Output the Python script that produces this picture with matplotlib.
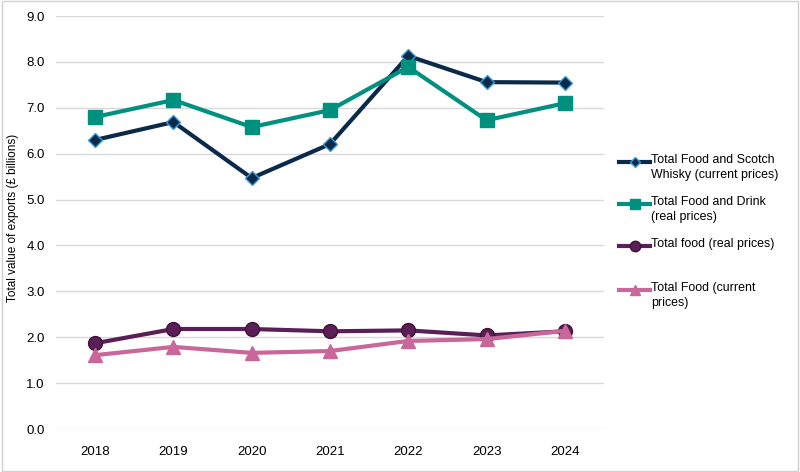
import matplotlib.pyplot as plt
from matplotlib.lines import Line2D
from matplotlib.patches import Rectangle

plt.rcParams['font.family'] = ['Liberation Sans', 'DejaVu Sans']

years = ["2018", "2019", "2020", "2021", "2022", "2023", "2024"]

food_whisky_current = [6.30, 6.69, 5.47, 6.21, 8.13, 7.56, 7.55]
food_drink_real = [6.80, 7.17, 6.58, 6.95, 7.89, 6.73, 7.10]
food_real = [1.87, 2.18, 2.18, 2.13, 2.15, 2.04, 2.13]
food_current = [1.61, 1.79, 1.66, 1.70, 1.92, 1.96, 2.14]

labels = [
    "Total Food and Scotch\nWhisky (current prices)",
    "Total Food and Drink\n(real prices)",
    "Total food (real prices)",
    "Total Food (current\nprices)",
]

styles = [
    dict(color="#0b2a4a", marker="D", markersize=7, mfc="#0b2a4a", mec="#3a9ad9", mew=1.0),
    dict(color="#00907f", marker="s", markersize=10, mfc="#00907f", mec="#00907f", mew=1.0),
    dict(color="#5b1f57", marker="o", markersize=10, mfc="#5b1f57", mec="#3d1239", mew=1.0),
    dict(color="#c9679a", marker="^", markersize=10, mfc="#c9679a", mec="#c9679a", mew=1.0),
]

series = [food_whisky_current, food_drink_real, food_real, food_current]

fig = plt.figure(figsize=(8, 4.72), dpi=100)
ax = fig.add_axes([0.07, 0.091, 0.685, 0.875])

x = list(range(len(years)))
for vals, st in zip(series, styles):
    ax.plot(x, vals, linewidth=3, **st)

ax.set_xlim(-0.5, len(years) - 0.5)
ax.set_ylim(0, 9)
ax.set_yticks([i for i in range(10)])
ax.set_yticklabels([f"{i:.1f}" for i in range(10)])
ax.set_xticks(x)
ax.set_xticklabels(years)
ax.tick_params(length=0, labelsize=9.5, colors="#000000")
ax.tick_params(axis="y", pad=8)
ax.tick_params(axis="x", pad=12)
for s in ax.spines.values():
    s.set_visible(False)
ax.yaxis.grid(True, color="#d9d9d9", linewidth=1)
ax.set_axisbelow(True)

fig.text(13 / 800, 1 - 218 / 472, "Total value of exports (£ billions)", fontsize=8.5,
         rotation=90, ha="center", va="center", color="#000000")

# legend drawn by hand so each entry lines up with its first text line
leg_y = [162, 204, 246, 290]
for lab, st, yy in zip(labels, styles, leg_y):
    yf = 1 - yy / 472
    fig.add_artist(Line2D([619 / 800, 650 / 800], [yf, yf], transform=fig.transFigure,
                          color=st["color"], linewidth=3))
    fig.add_artist(Line2D([634.5 / 800], [yf], transform=fig.transFigure,
                          marker=st["marker"], markersize=st["markersize"] * 0.75,
                          mfc=st["mfc"], mec=st["mec"], mew=st["mew"], linestyle="none"))
    fig.text(651 / 800, yf + 8 / 472, lab, fontsize=8.9, va="top", ha="left",
             linespacing=1.3, color="#000000")

fig.add_artist(Rectangle((0.002, 0.003), 0.995, 0.994, transform=fig.transFigure,
                         fill=False, edgecolor="#d0d0d0", linewidth=1))

fig.savefig("out.png", dpi=100)
